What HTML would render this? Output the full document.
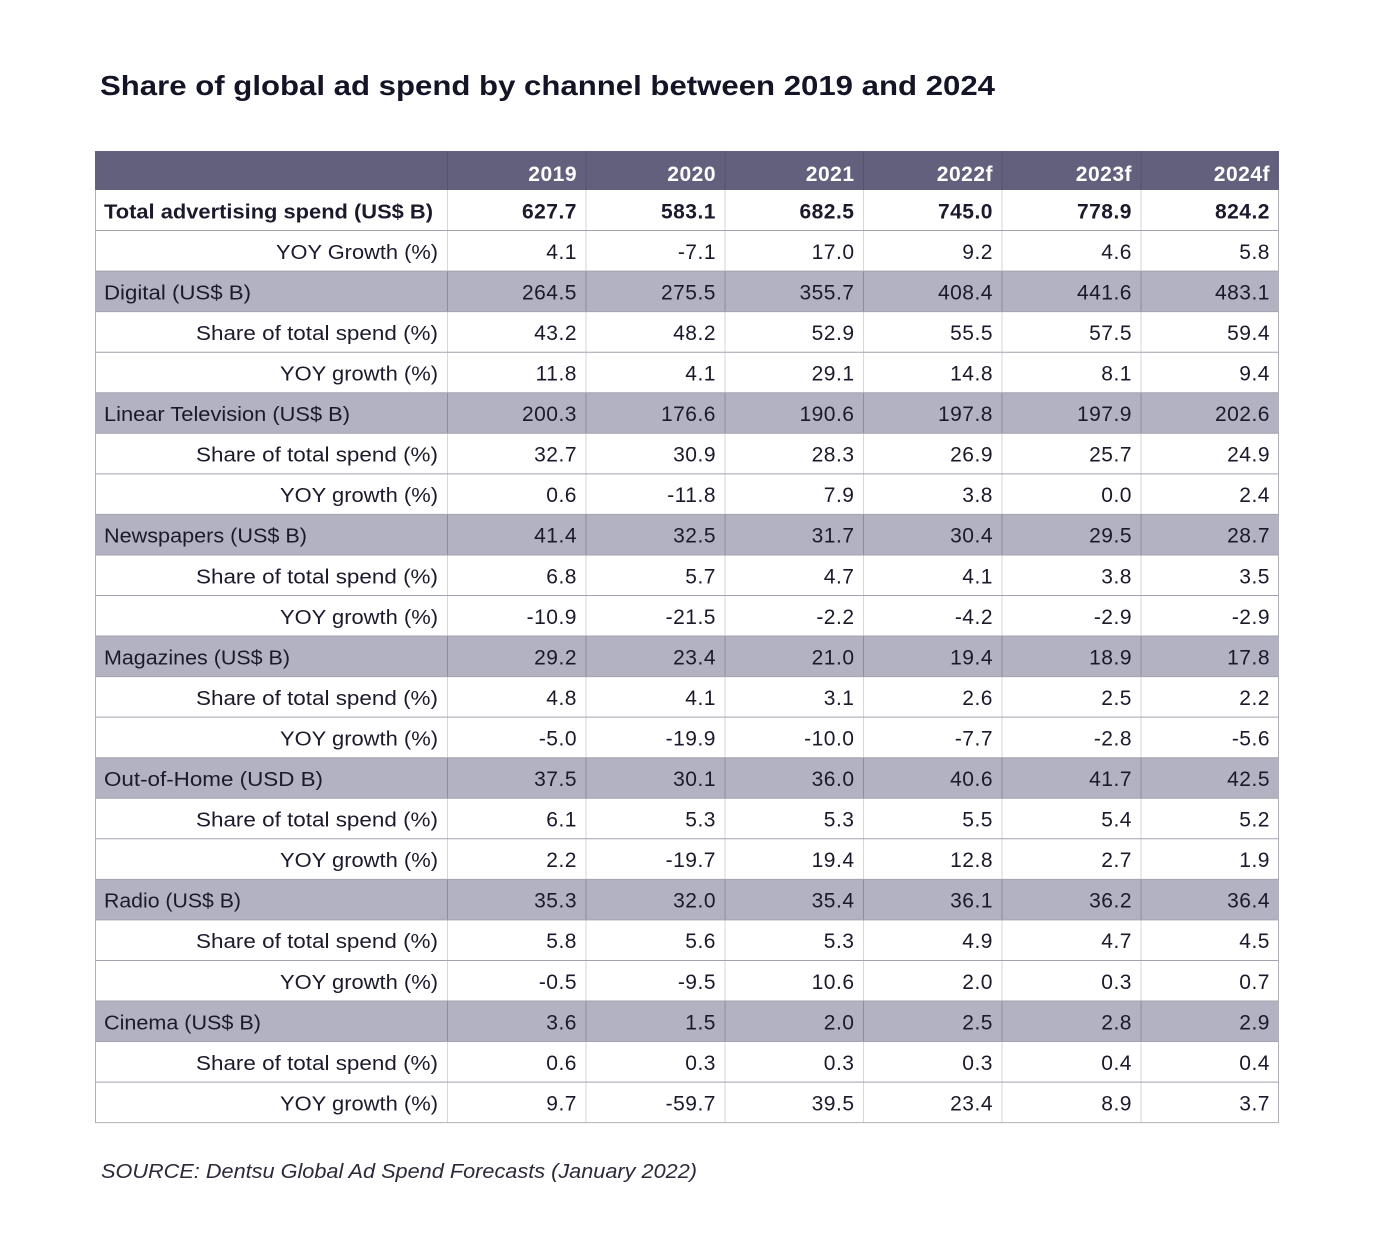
<!DOCTYPE html>
<html><head><meta charset="utf-8"><style>
html,body{margin:0;padding:0;background:#fff;}
svg{display:block;}
text{font-family:"Liberation Sans",sans-serif;fill:#1b1a2c;}
.n{font-size:21px;text-anchor:end;letter-spacing:0.5px;}
.b{font-weight:bold;}
.h{font-size:21px;font-weight:bold;fill:#fff;text-anchor:end;letter-spacing:0.5px;}
.l{font-size:20px;}
.r{font-size:20px;text-anchor:end;}
</style></head><body>
<svg width="1381" height="1237" viewBox="0 0 1381 1237" xmlns="http://www.w3.org/2000/svg">
<rect width="1381" height="1237" fill="#fff"/>
<text x="100" y="95" font-size="28" font-weight="bold" textLength="895" lengthAdjust="spacingAndGlyphs" style="fill:#141427">Share of global ad spend by channel between 2019 and 2024</text>

<rect x="95" y="151" width="1184" height="39" fill="#63607d"/>
<g fill="#b3b2c2">
<rect x="95" y="271.1" width="1184" height="40.55"/>
<rect x="95" y="392.75" width="1184" height="40.55"/>
<rect x="95" y="514.4" width="1184" height="40.55"/>
<rect x="95" y="636.05" width="1184" height="40.55"/>
<rect x="95" y="757.7" width="1184" height="40.55"/>
<rect x="95" y="879.35" width="1184" height="40.55"/>
<rect x="95" y="1001" width="1184" height="40.55"/>
</g>
<g stroke="#d6d6dc" stroke-width="1">
<line x1="447.5" y1="190" x2="447.5" y2="1122.6"/>
<line x1="586" y1="190" x2="586" y2="1122.6"/>
<line x1="725" y1="190" x2="725" y2="1122.6"/>
<line x1="863.5" y1="190" x2="863.5" y2="1122.6"/>
<line x1="1002" y1="190" x2="1002" y2="1122.6"/>
<line x1="1141" y1="190" x2="1141" y2="1122.6"/>
</g>
<g stroke="#575370" stroke-width="1">
<line x1="447.5" y1="151" x2="447.5" y2="190"/>
<line x1="586" y1="151" x2="586" y2="190"/>
<line x1="725" y1="151" x2="725" y2="190"/>
<line x1="863.5" y1="151" x2="863.5" y2="190"/>
<line x1="1002" y1="151" x2="1002" y2="190"/>
<line x1="1141" y1="151" x2="1141" y2="190"/>
</g>
<g stroke="#8e8c9e" stroke-width="1">
<path d="M447.5 271.1v40.55M586 271.1v40.55M725 271.1v40.55M863.5 271.1v40.55M1002 271.1v40.55M1141 271.1v40.55"/>
<path d="M447.5 392.75v40.55M586 392.75v40.55M725 392.75v40.55M863.5 392.75v40.55M1002 392.75v40.55M1141 392.75v40.55"/>
<path d="M447.5 514.4v40.55M586 514.4v40.55M725 514.4v40.55M863.5 514.4v40.55M1002 514.4v40.55M1141 514.4v40.55"/>
<path d="M447.5 636.05v40.55M586 636.05v40.55M725 636.05v40.55M863.5 636.05v40.55M1002 636.05v40.55M1141 636.05v40.55"/>
<path d="M447.5 757.7v40.55M586 757.7v40.55M725 757.7v40.55M863.5 757.7v40.55M1002 757.7v40.55M1141 757.7v40.55"/>
<path d="M447.5 879.35v40.55M586 879.35v40.55M725 879.35v40.55M863.5 879.35v40.55M1002 879.35v40.55M1141 879.35v40.55"/>
<path d="M447.5 1001v40.55M586 1001v40.55M725 1001v40.55M863.5 1001v40.55M1002 1001v40.55M1141 1001v40.55"/>
</g>
<g stroke="#a3a2ae" stroke-width="1">
<line x1="95" y1="230.55" x2="1279" y2="230.55"/>
<line x1="95" y1="271.1" x2="1279" y2="271.1"/>
<line x1="95" y1="311.65" x2="1279" y2="311.65"/>
<line x1="95" y1="352.2" x2="1279" y2="352.2"/>
<line x1="95" y1="392.75" x2="1279" y2="392.75"/>
<line x1="95" y1="433.3" x2="1279" y2="433.3"/>
<line x1="95" y1="473.85" x2="1279" y2="473.85"/>
<line x1="95" y1="514.4" x2="1279" y2="514.4"/>
<line x1="95" y1="554.95" x2="1279" y2="554.95"/>
<line x1="95" y1="595.5" x2="1279" y2="595.5"/>
<line x1="95" y1="636.05" x2="1279" y2="636.05"/>
<line x1="95" y1="676.6" x2="1279" y2="676.6"/>
<line x1="95" y1="717.15" x2="1279" y2="717.15"/>
<line x1="95" y1="757.7" x2="1279" y2="757.7"/>
<line x1="95" y1="798.25" x2="1279" y2="798.25"/>
<line x1="95" y1="838.8" x2="1279" y2="838.8"/>
<line x1="95" y1="879.35" x2="1279" y2="879.35"/>
<line x1="95" y1="919.9" x2="1279" y2="919.9"/>
<line x1="95" y1="960.45" x2="1279" y2="960.45"/>
<line x1="95" y1="1001" x2="1279" y2="1001"/>
<line x1="95" y1="1041.55" x2="1279" y2="1041.55"/>
<line x1="95" y1="1082.1" x2="1279" y2="1082.1"/>
</g>
<g stroke="#b0b0b8" stroke-width="1" fill="none">
<path d="M95.5 190V1122.6H1278.5V190"/>
</g>

<text class="h" x="577" y="181">2019</text>
<text class="h" x="716" y="181">2020</text>
<text class="h" x="854.5" y="181">2021</text>
<text class="h" x="993" y="181">2022f</text>
<text class="h" x="1132" y="181">2023f</text>
<text class="h" x="1270" y="181">2024f</text>

<text class="l b" x="104" y="218.3" textLength="329" lengthAdjust="spacingAndGlyphs">Total advertising spend (US$ B)</text>
<text class="r" x="438" y="258.9" textLength="162" lengthAdjust="spacingAndGlyphs">YOY Growth (%)</text>
<text class="l" x="104" y="299.4" textLength="147" lengthAdjust="spacingAndGlyphs">Digital (US$ B)</text>
<text class="r" x="438" y="340" textLength="242" lengthAdjust="spacingAndGlyphs">Share of total spend (%)</text>
<text class="r" x="438" y="380.5" textLength="158" lengthAdjust="spacingAndGlyphs">YOY growth (%)</text>
<text class="l" x="104" y="421.1" textLength="246" lengthAdjust="spacingAndGlyphs">Linear Television (US$ B)</text>
<text class="r" x="438" y="461.6" textLength="242" lengthAdjust="spacingAndGlyphs">Share of total spend (%)</text>
<text class="r" x="438" y="502.2" textLength="158" lengthAdjust="spacingAndGlyphs">YOY growth (%)</text>
<text class="l" x="104" y="542.7" textLength="203" lengthAdjust="spacingAndGlyphs">Newspapers (US$ B)</text>
<text class="r" x="438" y="583.3" textLength="242" lengthAdjust="spacingAndGlyphs">Share of total spend (%)</text>
<text class="r" x="438" y="623.8" textLength="158" lengthAdjust="spacingAndGlyphs">YOY growth (%)</text>
<text class="l" x="104" y="664.4" textLength="186" lengthAdjust="spacingAndGlyphs">Magazines (US$ B)</text>
<text class="r" x="438" y="704.9" textLength="242" lengthAdjust="spacingAndGlyphs">Share of total spend (%)</text>
<text class="r" x="438" y="745.5" textLength="158" lengthAdjust="spacingAndGlyphs">YOY growth (%)</text>
<text class="l" x="104" y="786" textLength="219" lengthAdjust="spacingAndGlyphs">Out-of-Home (USD B)</text>
<text class="r" x="438" y="826.6" textLength="242" lengthAdjust="spacingAndGlyphs">Share of total spend (%)</text>
<text class="r" x="438" y="867.1" textLength="158" lengthAdjust="spacingAndGlyphs">YOY growth (%)</text>
<text class="l" x="104" y="907.7" textLength="137" lengthAdjust="spacingAndGlyphs">Radio (US$ B)</text>
<text class="r" x="438" y="948.2" textLength="242" lengthAdjust="spacingAndGlyphs">Share of total spend (%)</text>
<text class="r" x="438" y="988.8" textLength="158" lengthAdjust="spacingAndGlyphs">YOY growth (%)</text>
<text class="l" x="104" y="1029.3" textLength="157" lengthAdjust="spacingAndGlyphs">Cinema (US$ B)</text>
<text class="r" x="438" y="1069.9" textLength="242" lengthAdjust="spacingAndGlyphs">Share of total spend (%)</text>
<text class="r" x="438" y="1110.4" textLength="158" lengthAdjust="spacingAndGlyphs">YOY growth (%)</text>

<g>
<text class="n b" x="577" y="218.3">627.7</text><text class="n b" x="716" y="218.3">583.1</text><text class="n b" x="854.5" y="218.3">682.5</text><text class="n b" x="993" y="218.3">745.0</text><text class="n b" x="1132" y="218.3">778.9</text><text class="n b" x="1270" y="218.3">824.2</text>

<text class="n" x="577" y="258.9">4.1</text><text class="n" x="716" y="258.9">-7.1</text><text class="n" x="854.5" y="258.9">17.0</text><text class="n" x="993" y="258.9">9.2</text><text class="n" x="1132" y="258.9">4.6</text><text class="n" x="1270" y="258.9">5.8</text>

<text class="n" x="577" y="299.4">264.5</text><text class="n" x="716" y="299.4">275.5</text><text class="n" x="854.5" y="299.4">355.7</text><text class="n" x="993" y="299.4">408.4</text><text class="n" x="1132" y="299.4">441.6</text><text class="n" x="1270" y="299.4">483.1</text>

<text class="n" x="577" y="340">43.2</text><text class="n" x="716" y="340">48.2</text><text class="n" x="854.5" y="340">52.9</text><text class="n" x="993" y="340">55.5</text><text class="n" x="1132" y="340">57.5</text><text class="n" x="1270" y="340">59.4</text>

<text class="n" x="577" y="380.5">11.8</text><text class="n" x="716" y="380.5">4.1</text><text class="n" x="854.5" y="380.5">29.1</text><text class="n" x="993" y="380.5">14.8</text><text class="n" x="1132" y="380.5">8.1</text><text class="n" x="1270" y="380.5">9.4</text>

<text class="n" x="577" y="421.1">200.3</text><text class="n" x="716" y="421.1">176.6</text><text class="n" x="854.5" y="421.1">190.6</text><text class="n" x="993" y="421.1">197.8</text><text class="n" x="1132" y="421.1">197.9</text><text class="n" x="1270" y="421.1">202.6</text>

<text class="n" x="577" y="461.6">32.7</text><text class="n" x="716" y="461.6">30.9</text><text class="n" x="854.5" y="461.6">28.3</text><text class="n" x="993" y="461.6">26.9</text><text class="n" x="1132" y="461.6">25.7</text><text class="n" x="1270" y="461.6">24.9</text>

<text class="n" x="577" y="502.2">0.6</text><text class="n" x="716" y="502.2">-11.8</text><text class="n" x="854.5" y="502.2">7.9</text><text class="n" x="993" y="502.2">3.8</text><text class="n" x="1132" y="502.2">0.0</text><text class="n" x="1270" y="502.2">2.4</text>

<text class="n" x="577" y="542.7">41.4</text><text class="n" x="716" y="542.7">32.5</text><text class="n" x="854.5" y="542.7">31.7</text><text class="n" x="993" y="542.7">30.4</text><text class="n" x="1132" y="542.7">29.5</text><text class="n" x="1270" y="542.7">28.7</text>

<text class="n" x="577" y="583.3">6.8</text><text class="n" x="716" y="583.3">5.7</text><text class="n" x="854.5" y="583.3">4.7</text><text class="n" x="993" y="583.3">4.1</text><text class="n" x="1132" y="583.3">3.8</text><text class="n" x="1270" y="583.3">3.5</text>

<text class="n" x="577" y="623.8">-10.9</text><text class="n" x="716" y="623.8">-21.5</text><text class="n" x="854.5" y="623.8">-2.2</text><text class="n" x="993" y="623.8">-4.2</text><text class="n" x="1132" y="623.8">-2.9</text><text class="n" x="1270" y="623.8">-2.9</text>

<text class="n" x="577" y="664.4">29.2</text><text class="n" x="716" y="664.4">23.4</text><text class="n" x="854.5" y="664.4">21.0</text><text class="n" x="993" y="664.4">19.4</text><text class="n" x="1132" y="664.4">18.9</text><text class="n" x="1270" y="664.4">17.8</text>

<text class="n" x="577" y="704.9">4.8</text><text class="n" x="716" y="704.9">4.1</text><text class="n" x="854.5" y="704.9">3.1</text><text class="n" x="993" y="704.9">2.6</text><text class="n" x="1132" y="704.9">2.5</text><text class="n" x="1270" y="704.9">2.2</text>

<text class="n" x="577" y="745.5">-5.0</text><text class="n" x="716" y="745.5">-19.9</text><text class="n" x="854.5" y="745.5">-10.0</text><text class="n" x="993" y="745.5">-7.7</text><text class="n" x="1132" y="745.5">-2.8</text><text class="n" x="1270" y="745.5">-5.6</text>

<text class="n" x="577" y="786">37.5</text><text class="n" x="716" y="786">30.1</text><text class="n" x="854.5" y="786">36.0</text><text class="n" x="993" y="786">40.6</text><text class="n" x="1132" y="786">41.7</text><text class="n" x="1270" y="786">42.5</text>

<text class="n" x="577" y="826.6">6.1</text><text class="n" x="716" y="826.6">5.3</text><text class="n" x="854.5" y="826.6">5.3</text><text class="n" x="993" y="826.6">5.5</text><text class="n" x="1132" y="826.6">5.4</text><text class="n" x="1270" y="826.6">5.2</text>

<text class="n" x="577" y="867.1">2.2</text><text class="n" x="716" y="867.1">-19.7</text><text class="n" x="854.5" y="867.1">19.4</text><text class="n" x="993" y="867.1">12.8</text><text class="n" x="1132" y="867.1">2.7</text><text class="n" x="1270" y="867.1">1.9</text>

<text class="n" x="577" y="907.7">35.3</text><text class="n" x="716" y="907.7">32.0</text><text class="n" x="854.5" y="907.7">35.4</text><text class="n" x="993" y="907.7">36.1</text><text class="n" x="1132" y="907.7">36.2</text><text class="n" x="1270" y="907.7">36.4</text>

<text class="n" x="577" y="948.2">5.8</text><text class="n" x="716" y="948.2">5.6</text><text class="n" x="854.5" y="948.2">5.3</text><text class="n" x="993" y="948.2">4.9</text><text class="n" x="1132" y="948.2">4.7</text><text class="n" x="1270" y="948.2">4.5</text>

<text class="n" x="577" y="988.8">-0.5</text><text class="n" x="716" y="988.8">-9.5</text><text class="n" x="854.5" y="988.8">10.6</text><text class="n" x="993" y="988.8">2.0</text><text class="n" x="1132" y="988.8">0.3</text><text class="n" x="1270" y="988.8">0.7</text>

<text class="n" x="577" y="1029.3">3.6</text><text class="n" x="716" y="1029.3">1.5</text><text class="n" x="854.5" y="1029.3">2.0</text><text class="n" x="993" y="1029.3">2.5</text><text class="n" x="1132" y="1029.3">2.8</text><text class="n" x="1270" y="1029.3">2.9</text>

<text class="n" x="577" y="1069.9">0.6</text><text class="n" x="716" y="1069.9">0.3</text><text class="n" x="854.5" y="1069.9">0.3</text><text class="n" x="993" y="1069.9">0.3</text><text class="n" x="1132" y="1069.9">0.4</text><text class="n" x="1270" y="1069.9">0.4</text>

<text class="n" x="577" y="1110.4">9.7</text><text class="n" x="716" y="1110.4">-59.7</text><text class="n" x="854.5" y="1110.4">39.5</text><text class="n" x="993" y="1110.4">23.4</text><text class="n" x="1132" y="1110.4">8.9</text><text class="n" x="1270" y="1110.4">3.7</text>
</g>

<text x="101" y="1178" font-size="20" font-style="italic" textLength="596" lengthAdjust="spacingAndGlyphs" style="fill:#2a2a3a">SOURCE: Dentsu Global Ad Spend Forecasts (January 2022)</text>
</svg>
</body></html>
